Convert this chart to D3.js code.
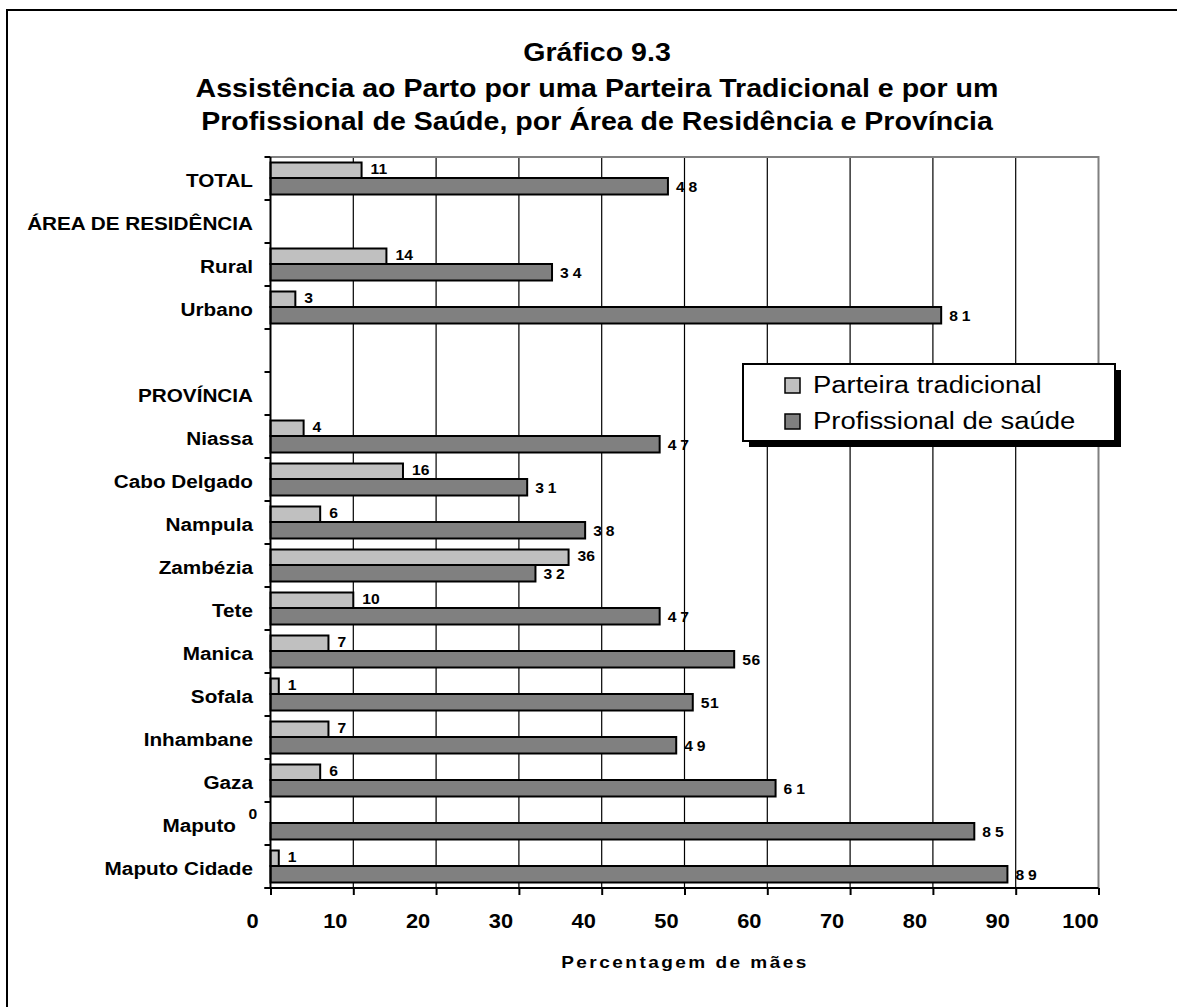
<!DOCTYPE html>
<html>
<head>
<meta charset="utf-8">
<script src="https://cdn.jsdelivr.net/npm/d3@7"></script>
<style>
  html, body { margin: 0; padding: 0; background: #fff; }
  svg { display: block; }
</style>
</head>
<body>
<div id="chart"></div>
<script>
// ---- Data ----
const categories = ["TOTAL", "ÁREA DE RESIDÊNCIA", "Rural", "Urbano", "", "PROVÍNCIA",
  "Niassa", "Cabo Delgado", "Nampula", "Zambézia", "Tete", "Manica", "Sofala",
  "Inhambane", "Gaza", "Maputo", "Maputo Cidade"];
const parteira = [11, null, 14, 3, null, null, 4, 16, 6, 36, 10, 7, 1, 7, 6, 0, 1];
const profissional = [48, null, 34, 81, null, null, 47, 31, 38, 32, 47, 56, 51, 49, 61, 85, 89];
const seriesNames = ["Parteira tradicional", "Profissional de saúde"];
const xTicks = [0, 10, 20, 30, 40, 50, 60, 70, 80, 90, 100];
const titleLines = ["Gráfico 9.3",
  "Assistência ao Parto por uma Parteira Tradicional e por um",
  "Profissional de Saúde, por Área de Residência e Província"];
const xAxisTitle = "Percentagem de mães";

// ---- Layout ----
const W = 1177, H = 1007;
const SX = 1.12;
const FONT = '"Liberation Sans", Arial, Helvetica, sans-serif';
const lightColor = "#c0c0c0", darkColor = "#808080";

const svg = d3.select("#chart").append("svg")
  .attr("width", W).attr("height", H);
svg.append("rect").attr("width", W).attr("height", H).attr("fill", "#fff");

// outer frame (only top and left visible)
svg.append("path").attr("d", `M7,${H + 5} L7,10 L${W + 5},10`)
  .attr("fill", "none").attr("stroke", "#000").attr("stroke-width", 2);

function addText(parent, x, y, str, o) {
  o = o || {};
  return parent.append("text")
    .attr("transform", `translate(${x},${y}) scale(${o.sx || SX},1)`)
    .attr("text-anchor", o.anchor || "start")
    .attr("font-family", FONT)
    .attr("font-size", o.size || 16)
    .attr("font-weight", o.weight || "bold")
    .attr("letter-spacing", o.ls || 0)
    .attr("dy", o.dy || 0)
    .attr("fill", "#000")
    .text(str);
}

const x = d3.scaleLinear().domain([0, 100]).range([270.5, 1098.5]);
const y = d3.scaleBand().domain(d3.range(categories.length)).range([157, 888]).padding(0);
const bw = y.bandwidth();

// Title
const titleX = 597;
[61, 97, 130].forEach((by, i) => addText(svg, titleX, by, titleLines[i], { size: 25.5, anchor: "middle" }));

// Category labels (shifted left when a zero-value label sits beside them)
categories.forEach((c, i) => {
  const lx = parteira[i] === 0 ? 236 : 253;
  addText(svg, lx, y(i) + bw / 2 + 2, c, { size: 18.5, anchor: "end", dy: "0.35em" });
});

// Value labels (drawn before gridlines)
const labels = svg.append("g");
parteira.forEach((v, i) => {
  if (v === null) return;
  const lx = v === 0 ? x(0) - 22 : x(v) + 9;
  addText(labels, lx, y(i) + 12, String(v), { size: 14, dy: "0.35em" });
});
profissional.forEach((v, i) => {
  if (v === null) return;
  const tight = (v === 56 || v === 51);
  addText(labels, x(v) + 8, y(i) + 30, String(v), { size: 14, dy: "0.35em", ls: tight ? 0.5 : 3.5 });
});

// Gridlines
svg.append("g").selectAll("line").data(xTicks.filter(t => t > 0 && t < 100)).join("line")
  .attr("x1", d => x(d)).attr("x2", d => x(d))
  .attr("y1", 157).attr("y2", 888)
  .attr("stroke", "#000").attr("stroke-width", 1.2);
// plot frame top & right (grey)
svg.append("path").attr("d", `M${x(0)},157 L${x(100)},157 L${x(100)},888`)
  .attr("fill", "none").attr("stroke", "#808080").attr("stroke-width", 2);

// Bars
const bars = svg.append("g");
bars.selectAll("rect.light").data(parteira.map((v, i) => ({ v, i })).filter(d => d.v !== null && d.v > 0))
  .join("rect").attr("class", "light")
  .attr("x", x(0)).attr("y", d => y(d.i) + 5.5)
  .attr("width", d => x(d.v) - x(0)).attr("height", 15.5)
  .attr("fill", lightColor).attr("stroke", "#000").attr("stroke-width", 2);
bars.selectAll("rect.dark").data(profissional.map((v, i) => ({ v, i })).filter(d => d.v !== null))
  .join("rect").attr("class", "dark")
  .attr("x", x(0)).attr("y", d => y(d.i) + 21)
  .attr("width", d => x(d.v) - x(0)).attr("height", 16.5)
  .attr("fill", darkColor).attr("stroke", "#000").attr("stroke-width", 2);

// Axes
const xAxis = d3.axisBottom(x).tickValues(xTicks).tickSize(7).tickFormat("");
const gx = svg.append("g").attr("transform", "translate(0,888)").call(xAxis);
gx.select(".domain").attr("stroke", "#000").attr("stroke-width", 2).attr("d", `M${x(0) - 6},0H${x(100)}`);
gx.selectAll(".tick line").attr("stroke", "#000").attr("stroke-width", 2);
xTicks.forEach(t => addText(svg, x(t) - 18, 928, String(t), { size: 19.5, anchor: "middle" }));

// left axis with ticks at band boundaries
const boundaries = d3.range(categories.length + 1).map(i => 157 + i * bw);
const gy = svg.append("g");
gy.append("line").attr("x1", x(0)).attr("x2", x(0)).attr("y1", 157).attr("y2", 888)
  .attr("stroke", "#000").attr("stroke-width", 2);
gy.selectAll("line.t").data(boundaries).join("line").attr("class", "t")
  .attr("x1", x(0) - 6).attr("x2", x(0)).attr("y1", d => d).attr("y2", d => d)
  .attr("stroke", "#000").attr("stroke-width", 2);

// X axis title
addText(svg, 685, 968, xAxisTitle, { size: 17, anchor: "middle", ls: 2.2 });

// Legend
const lg = svg.append("g");
lg.append("rect").attr("x", 749).attr("y", 370).attr("width", 372).attr("height", 77).attr("fill", "#000");
lg.append("rect").attr("x", 743).attr("y", 364).attr("width", 372).attr("height", 77)
  .attr("fill", "#fff").attr("stroke", "#000").attr("stroke-width", 2);
[lightColor, darkColor].forEach((c, i) => {
  lg.append("rect").attr("x", 785).attr("y", 378 + i * 36).attr("width", 15).attr("height", 15)
    .attr("fill", c).attr("stroke", "#000").attr("stroke-width", 1.5);
  addText(lg, 813, 393 + i * 36, seriesNames[i], { size: 24.5, weight: "normal" });
});
</script>
</body>
</html>
